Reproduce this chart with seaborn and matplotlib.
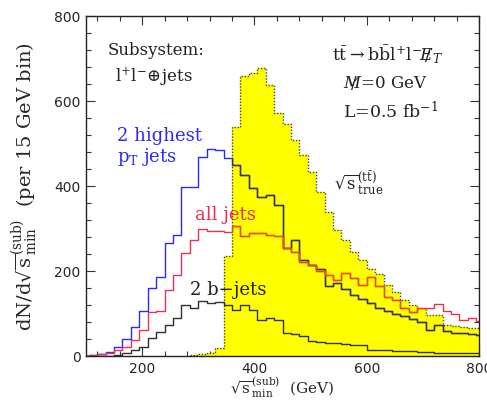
import numpy as np
import pandas as pd
import matplotlib
matplotlib.use("Agg")
import matplotlib.pyplot as plt
import seaborn as sns
from matplotlib.patches import PathPatch
from matplotlib.ticker import MultipleLocator

# ---- data: 15 GeV bins, lower edges 90 ... 795 GeV ----
bin_lo = list(range(90, 810, 15))

true_tt = [0, 0, 0, 0, 0, 0, 0, 0, 0, 0, 0, 0, 0, 3, 5, 7, 18, 235,
           540, 660, 665, 677, 638, 571, 547, 508, 473, 434, 387, 338, 296, 273,
           245, 226, 204, 193, 168, 150, 132, 120, 112, 97, 96, 73, 71, 69, 67, 65]

two_pt_jets = [1, 2, 5, 10, 22, 41, 69, 107, 161, 187, 265, 284, 397, 397, 469, 488,
               485, 465, 450, 426, 395, 375, 379, 355, 253, 273, 226, 214, 204, 165,
               171, 157, 143, 133, 124, 112, 106, 100, 93, 88, 79, 61, 74, 58, 54, 53, 52, 50]

all_jets = [0, 2, 4, 8, 14, 22, 38, 61, 104, 106, 156, 190, 242, 272, 298, 295,
            293, 292, 306, 282, 290, 290, 285, 282, 253, 245, 222, 214, 200, 190,
            179, 195, 183, 167, 187, 165, 140, 132, 114, 104, 114, 112, 123, 106, 98, 85, 90, 83]

two_b_jets = [0, 0, 0, 1, 2, 6, 14, 22, 42, 57, 73, 89, 120, 112, 130, 124,
              127, 120, 108, 120, 108, 85, 89, 85, 53, 51, 48, 35, 32, 30,
              30, 28, 27, 26, 15, 14, 13, 12, 12, 11, 10, 9, 8, 8, 7, 7, 6, 6]

df = pd.DataFrame({
    "mid": np.array(bin_lo) + 7.5,
    "true": true_tt,
    "pt2": two_pt_jets,
    "all": all_jets,
    "bb": two_b_jets,
})
edges = bin_lo + [bin_lo[-1] + 15]
yellow_start = 13  # first non-empty bin of the true distribution

sns.set_style("ticks")
plt.rcParams["font.family"] = ["DejaVu Sans"]
plt.rcParams["mathtext.fontset"] = "dejavuserif"

fig, ax = plt.subplots(figsize=(4.87, 4.01), dpi=100)
fig.subplots_adjust(left=0.1766, right=0.9836, top=0.960, bottom=0.1122)

ydf = df.iloc[yellow_start:]
yedges = edges[yellow_start:]

# yellow filled "true" histogram
sns.histplot(data=ydf, x="mid", weights="true", bins=yedges, element="step",
             fill=True, color="#ffff00", alpha=1, linewidth=0, ax=ax)
fill_coll = ax.collections[-1]
clip_patch = PathPatch(fill_coll.get_paths()[0], transform=ax.transData)

# dotted outline
sns.histplot(data=ydf, x="mid", weights="true", bins=yedges, element="step",
             fill=False, color="#4a4a10", linestyle=(0, (1, 1.2)), linewidth=1.0, ax=ax)

# reconstructed distributions
lw = 1.0
sns.histplot(data=df, x="mid", weights="pt2", bins=edges, element="step",
             fill=False, color="#2a2aff", linewidth=lw, ax=ax)
sns.histplot(data=df, x="mid", weights="pt2", bins=edges, element="step",
             fill=False, color="#383838", linewidth=lw, ax=ax)
ax.lines[-1].set_clip_path(clip_patch)

sns.histplot(data=df, x="mid", weights="all", bins=edges, element="step",
             fill=False, color="#ec3050", linewidth=lw, ax=ax)
sns.histplot(data=df, x="mid", weights="all", bins=edges, element="step",
             fill=False, color="#e85010", linewidth=lw, ax=ax)
ax.lines[-1].set_clip_path(clip_patch)

sns.histplot(data=df, x="mid", weights="bb", bins=edges, element="step",
             fill=False, color="#303030", linewidth=lw, ax=ax)

# axes
ax.set_xlim(100, 800)
ax.set_ylim(0, 800)
ax.set_xticks([200, 400, 600, 800])
ax.set_yticks([0, 200, 400, 600, 800])
ax.xaxis.set_minor_locator(MultipleLocator(40))
ax.yaxis.set_minor_locator(MultipleLocator(40))
ax.tick_params(which="both", direction="in", top=True, right=True, width=0.8, color="#333333")
ax.tick_params(which="major", length=6.5, labelsize=10, pad=4)
ax.tick_params(which="minor", length=3.3)
for s in ax.spines.values():
    s.set_linewidth(1.0)
    s.set_color("#222222")
    s.set_visible(True)

serif = "DejaVu Serif"
ax.set_xlabel(r"$\sqrt{\mathrm{s}}^{(\mathrm{sub})}_{\mathrm{min}}$  (GeV)", fontsize=11, family=serif)
ax.xaxis.label.set_va("center")
ax.set_ylabel(r"dN/d$\sqrt{\mathrm{s}}^{(\mathrm{sub})}_{\mathrm{min}}$  (per 15 GeV bin)", fontsize=14, family=serif)
ax.xaxis.set_label_coords(0.5, -0.092)
ax.yaxis.set_label_coords(-0.118, 0.5)

tkw = dict(transform=ax.transAxes, va="center", ha="left", family=serif)
ax.text(0.056, 0.900, "Subsystem:", fontsize=12, color="#222222", **tkw)
ax.text(0.074, 0.823, r"$\mathrm{l^{+}l^{-}}\!\oplus\!$jets", fontsize=12, color="#222222", **tkw)
ax.text(0.080, 0.647, "2 highest", fontsize=13, color="#2a2aff", **tkw)
ax.text(0.080, 0.585, r"$\mathrm{p_T}$ jets", fontsize=13, color="#2a2aff", **tkw)
ax.text(0.277, 0.415, "all jets", fontsize=13, color="#ec3050", **tkw)
ax.text(0.265, 0.194, "2 b\u2212jets", fontsize=13, color="#222222", **tkw)
ax.text(0.626, 0.885, r"$\mathrm{t\bar{t}\rightarrow b\bar{b}l^{+}l^{-}}\,/\!\!\!\!E_{T}$", fontsize=12.5, color="#222222", **tkw)
ax.text(0.654, 0.803, r"$/\!\!\!\!\!M$=0 GeV", fontsize=12, color="#222222", **tkw)
ax.text(0.654, 0.720, r"L=0.5 fb$^{-1}$", fontsize=12.5, color="#222222", **tkw)
ax.text(0.630, 0.509, r"$\sqrt{\mathrm{s}}^{(\mathrm{t\bar{t}})}_{\mathrm{true}}$", fontsize=12, color="#222222", **tkw)

fig.savefig("out.png", dpi=100)
